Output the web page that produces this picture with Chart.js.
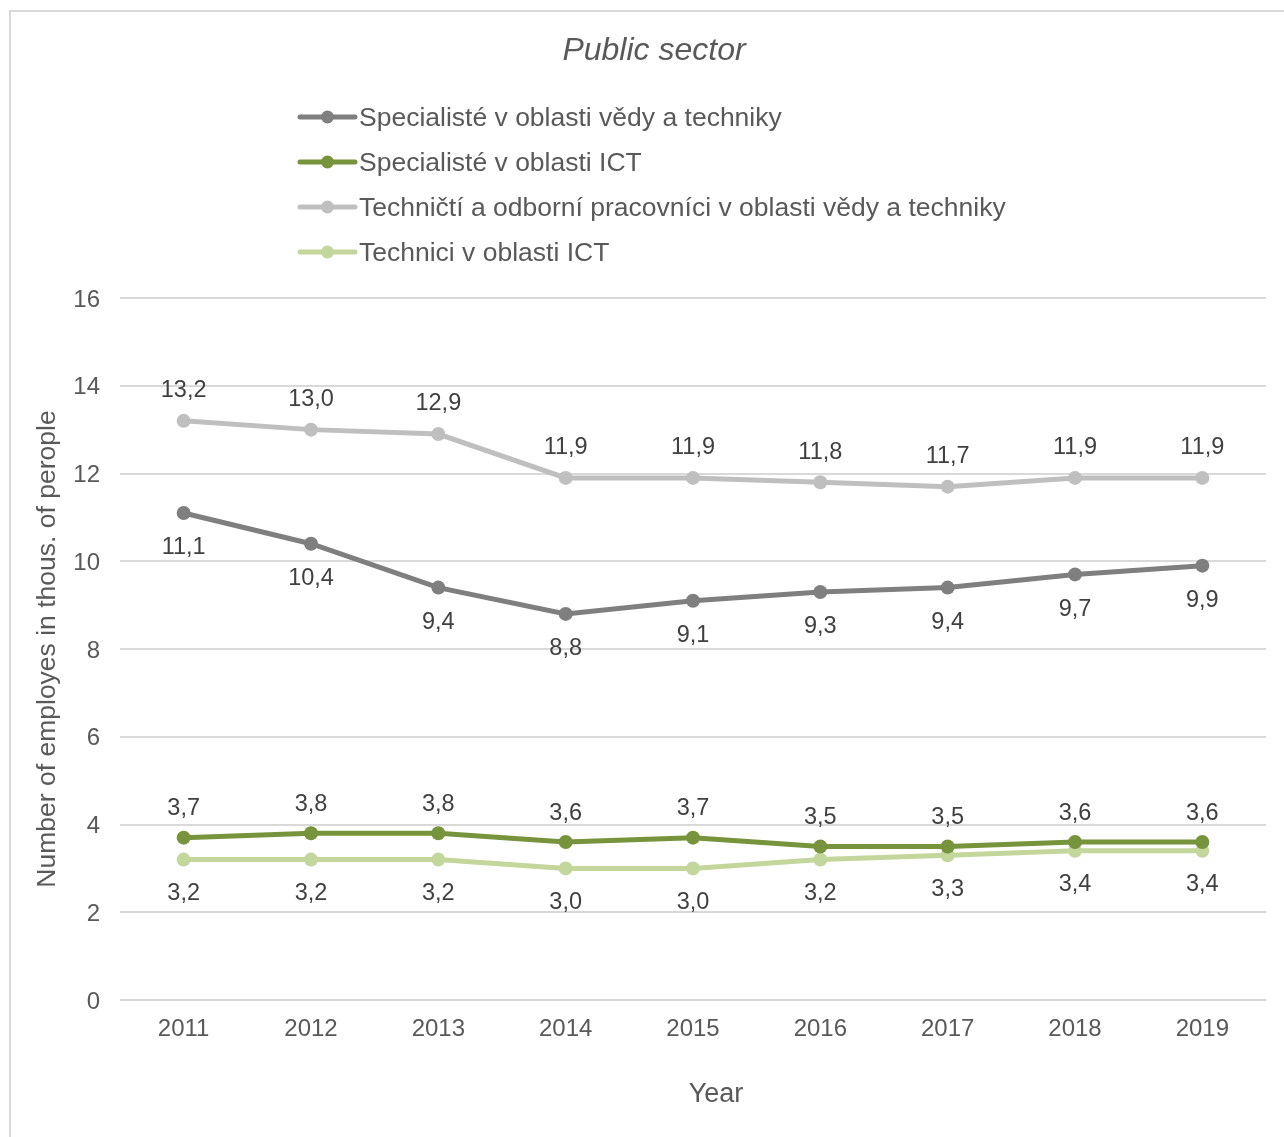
<!DOCTYPE html>
<html>
<head>
<meta charset="utf-8">
<title>Public sector</title>
<script src="https://cdn.jsdelivr.net/npm/chart.js@4.4.0/dist/chart.umd.min.js"></script>
<style>
  html, body { margin: 0; padding: 0; background: #fff; overflow: hidden; }
  #frame {
    position: absolute; left: 9px; top: 10px; width: 1290px; height: 1140px;
    border-left: 2px solid #d9d9d9; border-top: 2px solid #d9d9d9;
  }
  #wrap { position: absolute; left: 0; top: 0; width: 1284px; height: 1137px; }
</style>
</head>
<body>
<div id="frame"></div>
<div id="wrap"><canvas id="chart"></canvas></div>
<script>
// Roky a hodnoty (tis. osob)
const years = ['2011', '2012', '2013', '2014', '2015', '2016', '2017', '2018', '2019'];

const specVedaTech = [11.1, 10.4, 9.4, 8.8, 9.1, 9.3, 9.4, 9.7, 9.9];
const specICT = [3.7, 3.8, 3.8, 3.6, 3.7, 3.5, 3.5, 3.6, 3.6];
const technVedaTech = [13.2, 13.0, 12.9, 11.9, 11.9, 11.8, 11.7, 11.9, 11.9];
const technICT = [3.2, 3.2, 3.2, 3.0, 3.0, 3.2, 3.3, 3.4, 3.4];

const seriesNames = [
    'Specialisté v oblasti vědy a techniky',
    'Specialisté v oblasti ICT',
    'Techničtí a odborní pracovníci v oblasti vědy a techniky',
    'Technici v oblasti ICT'
];

const yMin = 0;
const yMax = 16;
const yStep = 2;

const FONT = '"Liberation Sans", Arial, sans-serif';

function lineSet(label, data, color, labelShift) {
    return {
        label: label,
        data: data,
        borderColor: color,
        backgroundColor: color,
        borderWidth: 5,
        pointRadius: 7,
        pointHoverRadius: 7,
        pointBorderWidth: 0,
        tension: 0,
        labelShift: labelShift   // posun popisku hodnoty nad/pod bod
    };
}

// Popisky hodnot u bodů (desetinná čárka)
const valueLabels = {
    id: 'valueLabels',
    afterDatasetsDraw(chart) {
        const ctx = chart.ctx;
        ctx.save();
        ctx.font = '23.5px ' + FONT;
        ctx.fillStyle = '#404040';
        ctx.textAlign = 'center';
        ctx.textBaseline = 'middle';
        chart.data.datasets.forEach(function(ds, i) {
            const meta = chart.getDatasetMeta(i);
            meta.data.forEach(function(pt, j) {
                const txt = ds.data[j].toFixed(1).replace('.', ',');
                ctx.fillText(txt, pt.x, pt.y + ds.labelShift);
            });
        });
        ctx.restore();
    }
};

// Nadpis, legenda pod sebou (čára + bod) a popis osy x
const overlay = {
    id: 'overlay',
    afterDraw(chart) {
        const ctx = chart.ctx;
        ctx.save();

        ctx.fillStyle = '#595959';
        ctx.textAlign = 'center';
        ctx.textBaseline = 'middle';
        ctx.font = 'italic 32px ' + FONT;
        ctx.fillText('Public sector', 654, 51);

        ctx.font = '27px ' + FONT;
        ctx.fillText('Year', 716, 1095);

        const x0 = 300, x1 = 355, top = 117, step = 45;
        ctx.font = '26.5px ' + FONT;
        ctx.textAlign = 'left';
        chart.data.datasets.forEach(function(ds, i) {
            const y = top + i * step;
            ctx.strokeStyle = ds.borderColor;
            ctx.lineWidth = 5;
            ctx.lineCap = 'round';
            ctx.beginPath();
            ctx.moveTo(x0, y);
            ctx.lineTo(x1, y);
            ctx.stroke();
            ctx.fillStyle = ds.backgroundColor;
            ctx.beginPath();
            ctx.arc((x0 + x1) / 2, y, 6.5, 0, Math.PI * 2);
            ctx.fill();
            ctx.fillStyle = '#595959';
            ctx.fillText(ds.label, x1 + 4, y + 2);
        });
        ctx.restore();
    }
};

const config = {
    type: 'line',
    data: {
        labels: years,
        datasets: [
            lineSet(seriesNames[0], specVedaTech, '#7f7f7f', 35),
            lineSet(seriesNames[1], specICT, '#77933c', -29),
            lineSet(seriesNames[2], technVedaTech, '#bfbfbf', -30),
            lineSet(seriesNames[3], technICT, '#c3d69b', 34)
        ]
    },
    options: {
        responsive: true,
        maintainAspectRatio: false,
        animation: false,
        layout: { padding: { left: 0, right: 18, top: 298, bottom: 0 } },
        plugins: {
            legend: { display: false },
            tooltip: { enabled: false },
            title: { display: false }
        },
        scales: {
            x: {
                offset: true,
                grid: { display: false, drawTicks: false },
                border: { display: false },
                ticks: {
                    color: '#595959',
                    padding: 15,
                    font: { family: FONT, size: 24 }
                },
                afterFit(scale) { scale.height = 137; }
            },
            y: {
                min: yMin,
                max: yMax,
                grid: { color: '#d9d9d9', lineWidth: 2, drawTicks: false },
                border: { display: false },
                ticks: {
                    stepSize: yStep,
                    color: '#595959',
                    padding: 20,
                    labelOffset: 2,
                    font: { family: FONT, size: 24 }
                },
                title: {
                    display: true,
                    text: 'Number of employes in thous. of perople',
                    color: '#595959',
                    font: { family: FONT, size: 26.5 },
                    padding: { top: 32, bottom: 0 }
                },
                afterFit(scale) { scale.width = 120; }
            }
        }
    },
    plugins: [valueLabels, overlay]
};

new Chart(document.getElementById('chart'), config);
</script>
</body>
</html>
